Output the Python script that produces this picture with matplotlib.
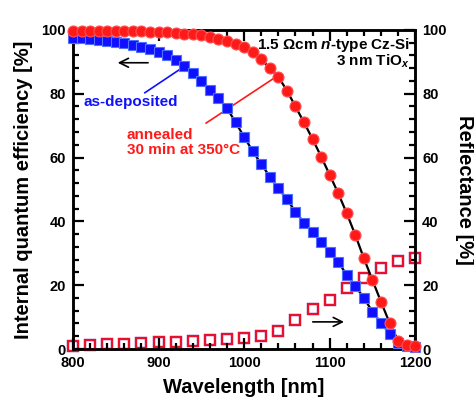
import numpy as np
import matplotlib
matplotlib.use("Agg")
import matplotlib.pyplot as plt
from matplotlib.ticker import MultipleLocator

plt.rcParams['font.family'] = ['Liberation Sans', 'DejaVu Sans']
plt.rcParams['font.weight'] = 'bold'
plt.rcParams['mathtext.fontset'] = 'custom'
plt.rcParams['mathtext.rm'] = 'Liberation Sans:bold'
plt.rcParams['mathtext.it'] = 'Liberation Sans:bold:italic'
plt.rcParams['mathtext.bf'] = 'Liberation Sans:bold'

# IQE data, every 10 nm
wl_iqe = np.arange(800, 1201, 10)
iqe_asdep = [97.5, 97.3, 97.1, 96.8, 96.5, 96.2, 95.8, 95.3, 94.7, 94.0,
             93.2, 92.0, 90.5, 88.8, 86.6, 84.0, 81.2, 78.5, 75.5, 71.0,
             66.5, 62.0, 58.0, 54.0, 50.3, 47.0, 43.0, 39.6, 36.6, 33.5,
             30.5, 27.3, 23.2, 19.7, 16.0, 11.7, 8.2, 4.8, 1.8, 0.8, 0.5]
iqe_anneal = [99.8, 99.8, 99.8, 99.8, 99.8, 99.7, 99.7, 99.6, 99.5, 99.4,
              99.3, 99.2, 99.0, 98.8, 98.6, 98.3, 97.8, 97.2, 96.5, 95.5,
              94.5, 93.2, 90.8, 88.0, 85.3, 81.0, 76.0, 71.0, 65.8, 60.3,
              54.6, 48.8, 42.5, 35.7, 28.4, 21.6, 14.8, 8.2, 2.6, 1.3, 1.0]

# reflectance, every 20 nm
wl_refl = np.arange(800, 1201, 20)
refl_anneal = [1.0, 1.2, 1.5, 1.6, 1.8, 2.1, 2.2, 2.4, 2.7, 3.0, 3.3,
               4.2, 5.7, 9.1, 12.4, 15.5, 19.0, 22.1, 25.3, 27.7, 28.4]
refl_asdep = [1.0, 1.2, 1.5, 1.6, 1.8, 2.1, 2.2, 2.4, 2.7, 3.0, 3.3,
              4.2, 5.7, 9.1, 12.4, 15.5, 19.0, 22.1, 25.3, 27.7, 28.4]

fig = plt.figure(figsize=(4.74, 4.15), dpi=100)
ax = fig.add_axes([0.154, 0.159, 0.722, 0.769])
ax2 = ax.twinx()

# fit lines
ax.plot(wl_iqe, iqe_asdep, color='black', lw=1.6, zorder=2)
ax.plot(wl_iqe, iqe_anneal, color='black', lw=1.6, zorder=2)

ax2.plot(wl_refl, refl_asdep, ls='none', marker='s', ms=7.2, mfc='none',
         mec='#2020ff', mew=1.6, clip_on=False, zorder=3)
ax2.plot(wl_refl, refl_anneal, ls='none', marker='s', ms=6.6, mfc='none',
         mec='#e8102a', mew=1.6, clip_on=False, zorder=3)

ax.plot(wl_iqe, iqe_asdep, ls='none', marker='s', ms=6.9, mfc='#1010ff',
        mec='#5070ff', mew=0.8, clip_on=False, zorder=4)
ax.plot(wl_iqe, iqe_anneal, ls='none', marker='o', ms=7.9, mfc='#ff1a1a',
        mec='#ff5050', mew=0.8, clip_on=False, zorder=4)

ax.set_zorder(ax2.get_zorder() + 1)
ax.patch.set_visible(False)

for a in (ax, ax2):
    a.set_xlim(800, 1200)
    a.set_ylim(0, 100)
    a.yaxis.set_major_locator(MultipleLocator(20))
    a.yaxis.set_minor_locator(MultipleLocator(4))
    for s in a.spines.values():
        s.set_linewidth(1.8)

ax.xaxis.set_major_locator(MultipleLocator(100))
ax.xaxis.set_minor_locator(MultipleLocator(20))
ax.tick_params(which='both', direction='in', top=True, right=False,
               labelsize=10.5, width=1.6, pad=5)
ax.tick_params(which='major', length=8)
ax.tick_params(which='minor', length=4.5)
ax2.tick_params(which='both', direction='in', labelsize=10.5, width=1.6, pad=5)
ax2.tick_params(which='major', length=8)
ax2.tick_params(which='minor', length=4.5)

ax.set_xlabel('Wavelength [nm]', fontsize=14.5, fontweight='bold', labelpad=6)
ax.set_ylabel('Internal quantum efficiency [%]', fontsize=14.5,
              fontweight='bold', labelpad=6)
ax2.set_ylabel('Reflectance [%]', fontsize=14.5, fontweight='bold',
               rotation=270, labelpad=20)

# annotations
ax.text(812, 77.4, 'as-deposited', color='#1010ff', fontsize=11,
        fontweight='bold', va='center', ha='left')
ax.text(863, 64.7, 'annealed\n30 min at 350°C', color='#ff1a1a', fontsize=11,
        fontweight='bold', va='center', ha='left', linespacing=1.1)
ax.plot([884, 927.5], [80.3, 88.1], color='#1010ff', lw=1.2, zorder=3)
ax.plot([955.6, 1037.4], [70.8, 85.3], color='#ff1a1a', lw=1.2, zorder=3)

ax.text(1194, 95.3, '1.5 Ωcm $\\it{n}$-type Cz-Si', fontsize=11,
        fontweight='bold', ha='right', va='center')
ax.text(1194, 90.0, '3 nm TiO$_{\\it{x}}$', fontsize=11,
        fontweight='bold', ha='right', va='center')

ax.annotate('', xy=(849, 89.7), xytext=(891, 89.7),
            arrowprops=dict(arrowstyle='->', color='black', lw=1.2,
                            mutation_scale=16))
ax.annotate('', xy=(1120, 8.5), xytext=(1077, 8.5),
            arrowprops=dict(arrowstyle='->', color='black', lw=1.2,
                            mutation_scale=16))

fig.savefig('out.png', dpi=100)
